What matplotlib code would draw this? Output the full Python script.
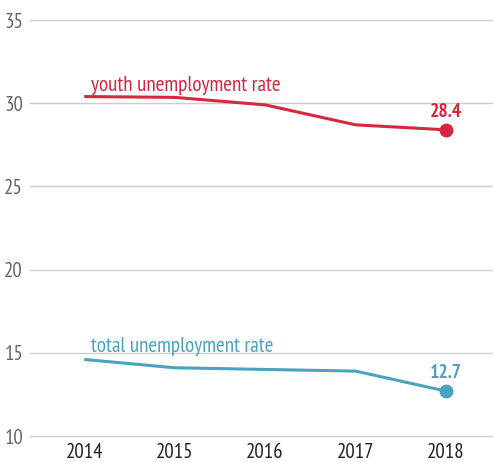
import matplotlib
matplotlib.use('Agg')
import matplotlib.pyplot as plt
from matplotlib import font_manager

# Data
years = [2014, 2015, 2016, 2017, 2018]
youth_rate = [30.4, 30.35, 29.9, 28.7, 28.4]
total_rate = [14.6, 14.1, 14.0, 13.9, 12.7]
y_ticks = [10, 15, 20, 25, 30, 35]

RED = '#d7263d'
BLUE = '#4ba2bf'
GRID = '#cccccc'

# Prefer a narrow face if one is installed
names = {f.name for f in font_manager.fontManager.ttflist}
family = ['DejaVu Sans']
for cand in ['PT Sans Narrow', 'Liberation Sans Narrow', 'Archivo Narrow', 'Asap Condensed']:
    if cand in names:
        family = [cand, 'DejaVu Sans']
        break
plt.rcParams['font.family'] = family

fig = plt.figure(figsize=(4.93, 4.62), dpi=100)
ax = fig.add_axes([30 / 493, 26 / 462, 463 / 493, 416 / 462])

ax.plot(years, youth_rate, color=RED, lw=2.2, solid_capstyle='butt')
ax.plot(years[-1], youth_rate[-1], 'o', color=RED, ms=9)
ax.plot(years, total_rate, color=BLUE, lw=2.2, solid_capstyle='butt')
ax.plot(years[-1], total_rate[-1], 'o', color=BLUE, ms=9)

ax.text(2014.07, 30.75, 'youth unemployment rate', color=RED, fontsize=15.2,
        ha='left', va='baseline')
ax.text(2014.08, 15.05, 'total unemployment rate', color=BLUE, fontsize=15.2,
        ha='left', va='baseline')
ax.text(2018, 29.17, f'{youth_rate[-1]:.1f}', color=RED, fontsize=14,
        fontweight='bold', ha='center', va='baseline')
ax.text(2018, 13.49, f'{total_rate[-1]:.1f}', color=BLUE, fontsize=14,
        fontweight='bold', ha='center', va='baseline')

ax.set_xlim(2013.4, 2018.52)
ax.set_ylim(10, 35)
ax.set_yticks(y_ticks)
ax.set_xticks(years)
ax.set_xticklabels([str(y) for y in years])
ax.grid(axis='y', color=GRID, lw=1)
for gl in ax.get_ygridlines():
    gl.set_clip_on(False)
ax.set_axisbelow(True)
for s in ax.spines.values():
    s.set_visible(False)
ax.tick_params(axis='both', length=0)
ax.tick_params(axis='y', labelsize=15, labelcolor='#666666', pad=5)
ax.tick_params(axis='x', labelsize=15, labelcolor='#222222', pad=5)

fig.savefig('out.png', dpi=100)
